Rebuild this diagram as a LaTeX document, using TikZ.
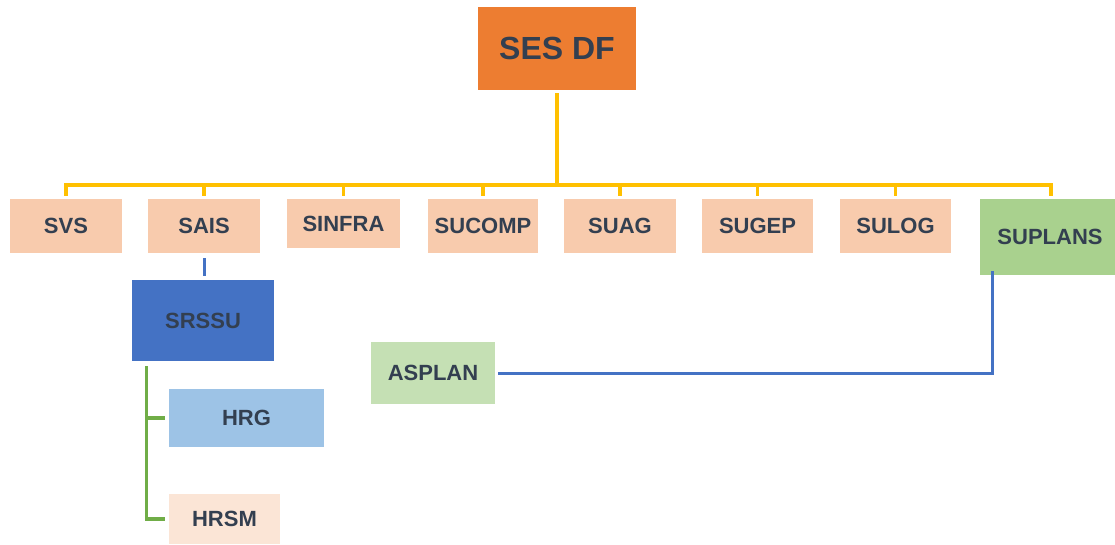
\documentclass[tikz,border=0pt]{standalone}
\usepackage{fontspec}
\setmainfont{Liberation Sans}
\usepackage{tikz}
\usetikzlibrary{calc}
\definecolor{sesorange}{HTML}{ED7D31}
\definecolor{peach}{HTML}{F8CBAD}
\definecolor{palepeach}{HTML}{FBE5D6}
\definecolor{midgreen}{HTML}{A9D18E}
\definecolor{palegreen}{HTML}{C5E0B4}
\definecolor{deepblue}{HTML}{4472C4}
\definecolor{skyblue}{HTML}{9DC3E6}
\definecolor{linkyellow}{HTML}{FFC000}
\definecolor{linkgreen}{HTML}{70AD47}
\definecolor{labelgrey}{HTML}{333F50}

\begin{document}
\begin{tikzpicture}[x=1pt,y=-1pt,
    every node/.style={inner sep=0pt,text=labelgrey,font=\fontsize{22}{26}\bfseries\selectfont},
    unitbox/.style={fill=peach,minimum width=112pt,minimum height=54pt},
    busline/.style={draw=linkyellow,line width=3.4pt},
    blueline/.style={draw=deepblue,line width=3pt},
    greenline/.style={draw=linkgreen,line width=3.2pt}]

    % Define the page size as the reference
    \useasboundingbox (0,0) rectangle (1115,544);

    % head of the chart
    \node (sesdf) [fill=sesorange,minimum width=158pt,minimum height=83pt,
        font=\fontsize{32}{38}\bfseries\selectfont] at (557,48.5) {SES DF};

    % first row
    \node (svs) [unitbox] at (66,226) {SVS};
    \node (sais) [unitbox] at (204,226) {SAIS};
    \node (sinfra) [unitbox,minimum width=113pt,minimum height=49pt] at (343.5,223.5) {SINFRA};
    \node (sucomp) [unitbox,minimum width=110pt] at (483,226) {SUCOMP};
    \node (suag) [unitbox] at (620,226) {SUAG};
    \node (sugep) [unitbox,minimum width=111pt] at (757.5,226) {SUGEP};
    \node (sulog) [unitbox,minimum width=111pt] at (895.5,226) {SULOG};
    \node (suplans) [fill=midgreen,minimum width=140pt,minimum height=76pt] at (1050,237) {SUPLANS};

    % lower units
    \node (srssu) [fill=deepblue,minimum width=142pt,minimum height=81pt] at (203,320.5) {SRSSU};
    \node (hrg) [fill=skyblue,minimum width=155pt,minimum height=58pt] at (246.5,418) {HRG};
    \node (hrsm) [fill=palepeach,minimum width=111pt,minimum height=50pt] at (224.5,519) {HRSM};
    \node (asplan) [fill=palegreen,minimum width=124pt,minimum height=62pt] at (433,373) {ASPLAN};

    % yellow bus
    \coordinate (bus) at (557,185);
    \draw[busline] ([yshift=-3pt]sesdf.south) -- (bus);
    \draw[busline] (bus) -| ([yshift=3pt]svs.north);
    \foreach \n in {sais,sinfra,sucomp,suag,sugep,sulog}
        \draw[busline] (bus) -| ([yshift=3pt]\n.north);
    \draw[busline] (bus) -| ([xshift=71pt,yshift=3pt]suplans.north west);

    % links below the row
    \draw[blueline] ([yshift=-5pt]sais.south) -- ([xshift=1pt,yshift=4pt]srssu.north);
    \draw[greenline] ([xshift=15pt,yshift=-5pt]srssu.south west) |- ([xshift=-4pt]hrsm.west);
    \draw[greenline] ([xshift=15pt]srssu.south west |- hrg.west) -- ([xshift=-4pt]hrg.west);
    \draw[blueline] ([xshift=3pt]asplan.east) -| ([xshift=13pt,yshift=4pt]suplans.south west);

\end{tikzpicture}
\end{document}
